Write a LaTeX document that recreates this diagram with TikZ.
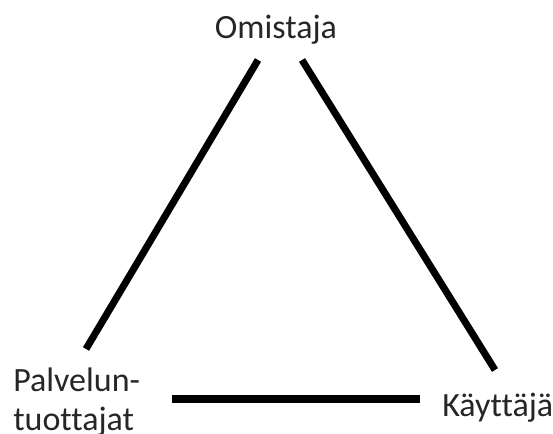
\documentclass[tikz,border=0pt]{standalone}
\usepackage{fontspec}
\setmainfont[Ligatures=NoCommon]{Carlito}
\begin{document}
\begin{tikzpicture}[x=0.75pt,y=-0.75pt,
  lbl/.style={inner sep=0pt, font=\fontsize{25.5}{28.5}\selectfont, text=black!85},
  edge/.style={line width=5.3pt, line cap=butt}]
\useasboundingbox (0,0) rectangle (553,434);
\node[lbl, anchor=base] (om) at (276,39) {Omistaja};
\node[lbl, anchor=base west, align=left] (pa) at (13,430) {Palvelun-\\tuottajat};
\node[lbl, anchor=base west] (ka) at (442,416) {Käyttäjä};
\coordinate (omL) at (258,60);
\coordinate (omR) at (302,60);
\coordinate (paT) at (86,349);
\coordinate (paR) at (172,399);
\coordinate (kaL) at (420,399);
\coordinate (kaT) at (495,370);
\draw[edge] (omL) -- (paT);
\draw[edge] (omR) -- (kaT);
\draw[edge] (paR) -- (kaL);
\end{tikzpicture}
\end{document}
